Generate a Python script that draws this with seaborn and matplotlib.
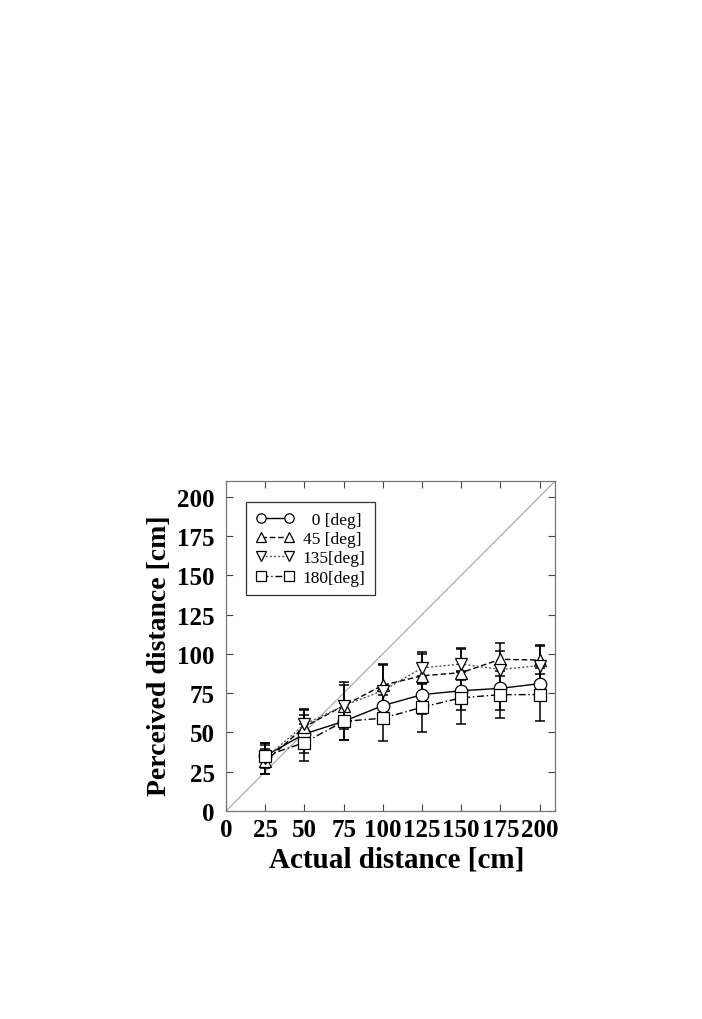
import matplotlib
matplotlib.use("Agg")
import matplotlib.pyplot as plt
import pandas as pd
import seaborn as sns

# 実距離 [cm]
actual = [25, 50, 75, 100, 125, 150, 175, 200]

# 知覚距離の平均値と標準偏差（角度ごと）
mean_0 = [35, 49, 57, 67, 74, 76.5, 78, 81]
sd_0 = [8, 12, 12, 12, 12, 12, 14, 11]
mean_45 = [31.5, 53.5, 67, 80, 86, 88, 96.5, 96]
sd_45 = [8, 11, 15, 13, 14, 15, 10.5, 9]
mean_135 = [33.5, 55, 67, 76.5, 91, 93.5, 90, 92.5]
sd_135 = [10, 10, 13, 17, 10, 10, 12, 13]
mean_180 = [35, 43.5, 57, 59, 66, 72, 74, 74]
sd_180 = [7, 12, 12, 14.5, 15.5, 17, 15, 17]

labels = ["  0 [deg]", "45 [deg]", "135[deg]", "180[deg]"]
ticks = [0, 25, 50, 75, 100, 125, 150, 175, 200]

series = [
    (labels[0], mean_0, sd_0, "o", "-", "black"),
    (labels[1], mean_45, sd_45, "^", (0, (4, 2)), "black"),
    (labels[2], mean_135, sd_135, "v", (0, (1.5, 1.5)), "#555555"),
    (labels[3], mean_180, sd_180, "s", (0, (5, 2, 1, 2)), "black"),
]

sns.set_theme(style="ticks")
plt.rcParams["font.family"] = ["Liberation Serif", "DejaVu Serif"]
plt.rcParams["text.color"] = "black"
plt.rcParams["axes.labelcolor"] = "black"
plt.rcParams["xtick.color"] = "black"
plt.rcParams["ytick.color"] = "black"

fig = plt.figure(figsize=(7.02, 10.2), dpi=100)
ax = fig.add_axes([0.322, 0.204, 0.469, 0.3235])

# 対角線 y = x
ax.plot([0, 210], [0, 210], color="#999999", lw=0.7, zorder=1)

for name, m, sd, mk, ls, col in series:
    df = pd.DataFrame({"actual": actual, "perceived": m})
    ax.errorbar(actual, m, yerr=sd, fmt="none", ecolor="black",
                elinewidth=1.1, capsize=3.5, capthick=1.1, zorder=2)
    sns.lineplot(data=df, x="actual", y="perceived", ax=ax, color=col,
                 linestyle=ls, lw=1.0, marker=mk, markersize=9,
                 markerfacecolor="white", markeredgecolor="black",
                 markeredgewidth=0.9, label=name, zorder=3)

ax.set_xlim(0, 210)
ax.set_ylim(0, 210)
ax.set_xticks(ticks)
ax.set_yticks(ticks)
ax.tick_params(direction="in", length=5, width=0.8, top=True, right=True,
               labelsize=18, color="#444444")
ax.tick_params(axis="x", pad=5)
ax.tick_params(axis="y", pad=8)
for t in ax.get_xticklabels() + ax.get_yticklabels():
    t.set_fontweight("bold")
for s in ax.spines.values():
    s.set_color("#777777")
    s.set_linewidth(0.9)

ax.set_xlabel("Actual distance [cm]", fontsize=21, fontweight="bold")
ax.set_ylabel("Perceived distance [cm]", fontsize=20, fontweight="bold")
ax.xaxis.set_label_coords(0.517, -0.106)
ax.yaxis.set_label_coords(-0.164, 0.473)

leg = ax.legend(loc="upper left", bbox_to_anchor=(0.061, 0.936),
                fontsize=12.5, numpoints=2, handlelength=2.2,
                markerscale=0.75, frameon=True, fancybox=False,
                borderpad=0.55, labelspacing=0.18, handletextpad=0.5,
                borderaxespad=0)
leg.get_frame().set_edgecolor("black")
leg.get_frame().set_linewidth(0.9)

fig.savefig("out.png", dpi=100)
